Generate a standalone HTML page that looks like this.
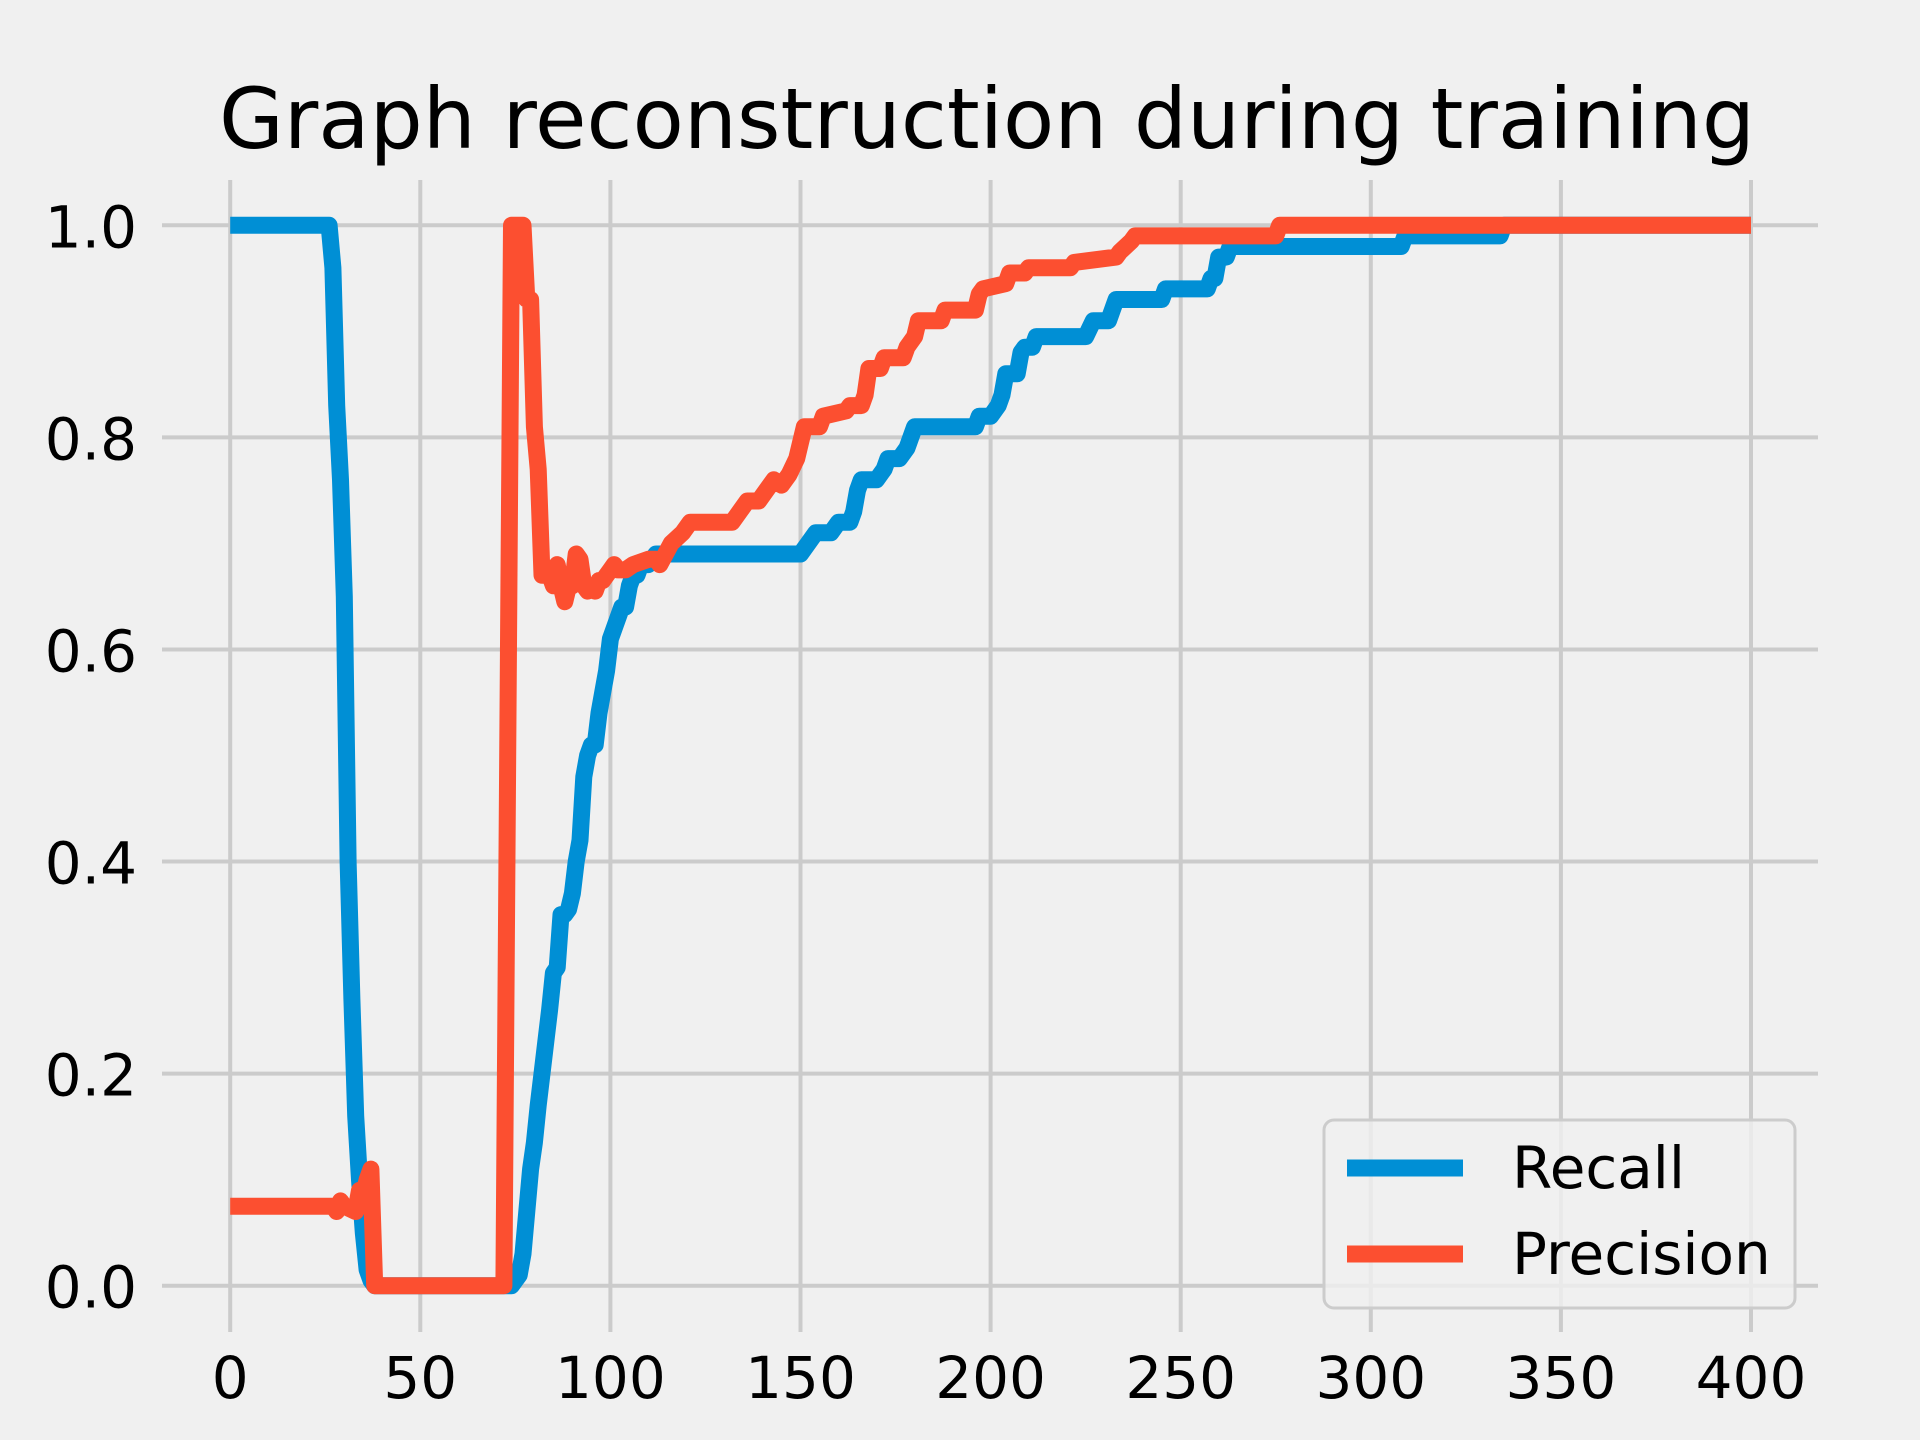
<!DOCTYPE html>
<html><head><meta charset="utf-8"><style>
html,body{margin:0;padding:0;background:#f0f0f0;}
svg{display:block;font-family:"DejaVu Sans","Liberation Sans",sans-serif;}
</style></head><body>
<svg id="chart" width="1920" height="1440" viewBox="0 0 1920 1440">
<rect width="1920" height="1440" fill="#f0f0f0"/>
<text x="987" y="148" font-size="84" text-anchor="middle" textLength="1536" lengthAdjust="spacingAndGlyphs" fill="#000">Graph reconstruction during training</text>
<g id="grid"></g>
<g id="ticks"></g>
<g id="series"></g>
<g id="legend">
<rect x="1324" y="1120" width="471" height="188" rx="10" fill="#f0f0f0" fill-opacity="0.8" stroke="#cccccc" stroke-width="3"/>
<line x1="1347" y1="1168" x2="1463" y2="1168" stroke="#008fd5" stroke-width="17"/>
<text x="1512" y="1188" font-size="58" fill="#000">Recall</text>
<line x1="1347" y1="1254" x2="1463" y2="1254" stroke="#fc4f30" stroke-width="17"/>
<text x="1512" y="1274" font-size="58" fill="#000">Precision</text>
</g>
</svg>
<script>
const xTicks = [0, 50, 100, 150, 200, 250, 300, 350, 400];
const yTicks = [0.0, 0.2, 0.4, 0.6, 0.8, 1.0];
const yTickLabels = ["0.0", "0.2", "0.4", "0.6", "0.8", "1.0"];
const recallX = [0,26,27,28,29,30,31,32,33,34,35,36,37,38,74,75,76,77,78,79,80,81,82,83,84,85,86,87,88,89,90,91,92,93,94,95,96,97,98,99,100,101,102,103,104,105,106,107,108,110,112,150,152,154,158,160,163,164,165,166,170,172,173,176,178,180,196,197,200,202,203,204,207,208,209,211,212,225,227,231,233,245,246,257,258,259,260,262,263,308,309,334,335,400];
const recallY = [1,1,0.96,0.83,0.76,0.65,0.40,0.27,0.16,0.10,0.05,0.015,0.005,0,0,0.005,0.01,0.03,0.07,0.11,0.135,0.17,0.20,0.23,0.26,0.295,0.30,0.35,0.35,0.355,0.37,0.40,0.42,0.48,0.50,0.51,0.51,0.54,0.56,0.58,0.61,0.62,0.63,0.64,0.64,0.66,0.67,0.67,0.68,0.68,0.69,0.69,0.70,0.71,0.71,0.72,0.72,0.73,0.75,0.76,0.76,0.77,0.78,0.78,0.79,0.81,0.81,0.82,0.82,0.83,0.84,0.86,0.86,0.88,0.885,0.885,0.895,0.895,0.91,0.91,0.93,0.93,0.94,0.94,0.95,0.95,0.97,0.97,0.98,0.98,0.99,0.99,1,1];
const precisionX = [0,27,28,29,30,33,34,35,36,37,38,72,74,77,78,79,80,81,82,84,85,86,87,88,89,90,91,92,93,94,95,96,97,98,99,100,101,102,104,106,110,112,113,116,119,121,132,134,136,139,142,143,145,147,149,150,151,155,156,162,163,166,167,168,171,172,177,178,180,181,187,188,196,197,198,204,205,209,210,221,222,233,234,237,238,275,276,400];
const precisionY = [0.075,0.075,0.07,0.08,0.075,0.07,0.09,0.085,0.1,0.11,0,0,1,1,0.93,0.93,0.81,0.77,0.67,0.67,0.66,0.68,0.66,0.645,0.66,0.66,0.69,0.685,0.66,0.655,0.66,0.655,0.665,0.665,0.67,0.675,0.68,0.675,0.675,0.68,0.685,0.685,0.68,0.70,0.71,0.72,0.72,0.73,0.74,0.74,0.755,0.76,0.755,0.765,0.78,0.795,0.81,0.81,0.82,0.825,0.83,0.83,0.84,0.865,0.865,0.875,0.875,0.885,0.895,0.91,0.91,0.92,0.92,0.935,0.94,0.945,0.955,0.955,0.96,0.96,0.965,0.97,0.975,0.985,0.99,0.99,1,1];

const NS = "http://www.w3.org/2000/svg";
const xs = v => 230.2 + v * (1751 - 230.2) / 400;
const ys = v => 1285.7 - v * (1285.7 - 225.3);
const grid = document.getElementById('grid');
const ticks = document.getElementById('ticks');
xTicks.forEach(t => {
  const l = document.createElementNS(NS, 'line');
  l.setAttribute('x1', xs(t)); l.setAttribute('x2', xs(t));
  l.setAttribute('y1', 180); l.setAttribute('y2', 1332);
  l.setAttribute('stroke', '#cbcbcb'); l.setAttribute('stroke-width', 4);
  
  
  grid.appendChild(l);
  const tx = document.createElementNS(NS, 'text');
  tx.setAttribute('x', xs(t)); tx.setAttribute('y', 1398);
  tx.setAttribute('font-size', 58); tx.setAttribute('text-anchor', 'middle');
  tx.textContent = t;
  
  
  ticks.appendChild(tx);
});
yTicks.forEach((t, i) => {
  const l = document.createElementNS(NS, 'line');
  l.setAttribute('x1', 162); l.setAttribute('x2', 1818);
  l.setAttribute('y1', ys(t)); l.setAttribute('y2', ys(t));
  l.setAttribute('stroke', '#cbcbcb'); l.setAttribute('stroke-width', 4);
  
  
  grid.appendChild(l);
  const tx = document.createElementNS(NS, 'text');
  tx.setAttribute('x', 137); tx.setAttribute('y', ys(t) + 22);
  tx.setAttribute('font-size', 58); tx.setAttribute('text-anchor', 'end');
  tx.textContent = yTickLabels[i];
  
  
  ticks.appendChild(tx);
});
const series = document.getElementById('series');
function drawLine(X, Y, color, name) {
  const p = document.createElementNS(NS, 'polyline');
  p.setAttribute('points', X.map((x, i) => xs(x).toFixed(1) + ',' + ys(Y[i]).toFixed(1)).join(' '));
  p.setAttribute('fill', 'none'); p.setAttribute('stroke', color);
  p.setAttribute('stroke-width', 17); p.setAttribute('stroke-linejoin', 'round');
  
  
  series.appendChild(p);
}
drawLine(recallX, recallY, '#008fd5', 'recall-line');
drawLine(precisionX, precisionY, '#fc4f30', 'precision-line');
</script>
</body></html>
